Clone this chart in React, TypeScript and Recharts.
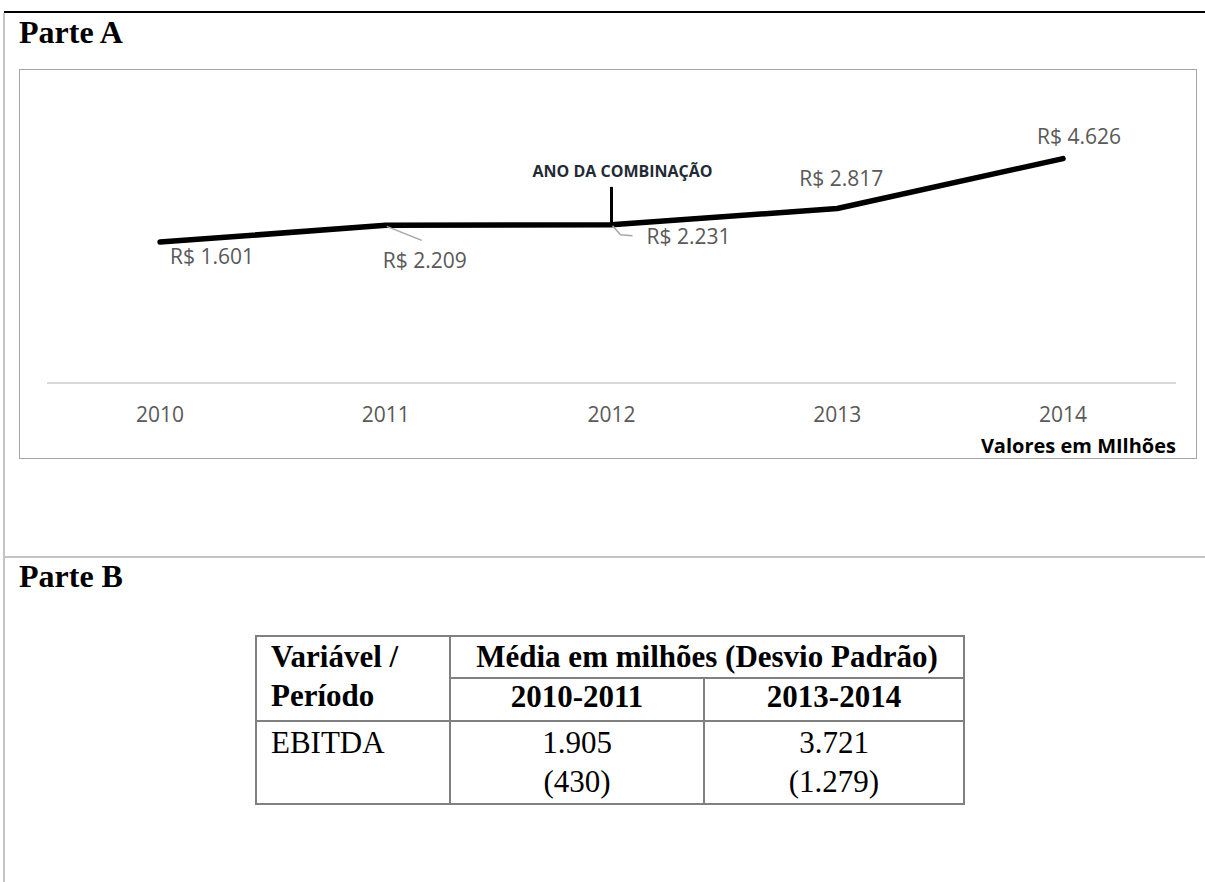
import React from 'react';
import { LineChart, Line, XAxis, YAxis, LabelList, ReferenceLine } from 'recharts';

// EBITDA anual (R$ milhões)
const years = ['2010', '2011', '2012', '2013', '2014'];
const ebitda = [1601, 2209, 2231, 2817, 4626];

// ano da combinação e topo do marcador vertical (em R$ milhões)
const combinationYear = '2012';
const combinationLabel = 'ANO DA COMBINAÇÃO';
const markerTop = 3600;

// médias e desvios da Parte B
const periods = ['2010-2011', '2013-2014'];
const periodMeans = ['1.905', '3.721'];
const periodStdDevs = ['(430)', '(1.279)'];

const chartData = years.map((year, i) => ({ year, ebitda: ebitda[i] }));

// deslocamento de cada rótulo em relação ao ponto (+ linha de chamada opcional)
const labelOffsets: { dx: number; dy: number; leader?: number[][] }[] = [
    { dx: 52, dy: 14 },
    { dx: 39, dy: 35, leader: [[1, 1], [36, 15]] },
    { dx: 77, dy: 12, leader: [[1, 1], [9, 10], [21, 11]] },
    { dx: 4, dy: -30 },
    { dx: 16, dy: -22 },
];

const sans = "'Open Sans', 'Noto Sans', sans-serif";
const serif = "'Liberation Serif', 'Times New Roman', serif";

const formatBRL = (v: number) => 'R$ ' + String(v).replace(/\B(?=(\d{3})+(?!\d))/g, '.');

const renderValueLabel = (props: any) => {
    const { x, y, value, index } = props;
    const off = labelOffsets[index] || { dx: 0, dy: -20 };
    return (
        <g>
            {off.leader && (
                <polyline
                    points={off.leader.map(([px, py]) => `${x + px},${y + py}`).join(' ')}
                    fill="none"
                    stroke="#a6a6a6"
                    strokeWidth={1.5}
                />
            )}
            <text
                x={x + off.dx}
                y={y + off.dy + 7.5}
                textAnchor="middle"
                fill="#595959"
                fontFamily={sans}
                fontSize={21}
            >
                {formatBRL(Number(value))}
            </text>
        </g>
    );
};

const CombinationLabel = (props: any) => {
    const { viewBox } = props;
    if (!viewBox) return null;
    return (
        <text
            x={viewBox.x + 11}
            y={viewBox.y - 10}
            textAnchor="middle"
            fill="#222a35"
            fontFamily={sans}
            fontWeight={700}
            fontSize={16}
        >
            {combinationLabel}
        </text>
    );
};

const UnitLabel = (props: any) => {
    const { viewBox } = props;
    if (!viewBox) return null;
    return (
        <text
            x={viewBox.x + viewBox.width}
            y={viewBox.y + 70}
            textAnchor="end"
            fill="#000"
            fontFamily={sans}
            fontWeight={700}
            fontSize={20}
        >
            Valores em MIlhões
        </text>
    );
};

const cellBorder = '2px solid #808080';

export default function App() {
    const comboValue = ebitda[years.indexOf(combinationYear)];

    return (
        <div style={{ position: 'absolute', left: 0, top: 0, width: 1205, height: 882, background: '#fff', overflow: 'hidden' }}>
            {/* moldura da página */}
            <div style={{ position: 'absolute', left: 4, top: 11, width: 1201, height: 2, background: '#000' }} />
            <div style={{ position: 'absolute', left: 3, top: 13, width: 2, height: 869, background: '#c4c4c4' }} />
            <div style={{ position: 'absolute', left: 4, top: 556, width: 1201, height: 2, background: '#c4c4c4' }} />

            <div style={{ position: 'absolute', left: 19, top: 14, fontFamily: serif, fontWeight: 700, fontSize: 32, lineHeight: '36px' }}>
                Parte A
            </div>

            <div
                style={{
                    position: 'absolute',
                    left: 19,
                    top: 69,
                    width: 1178,
                    height: 390,
                    boxShadow: 'inset 0 0 0 1px #a6a6a6',
                }}
            >
                <LineChart width={1178} height={390} data={chartData} margin={{ top: 24, right: 21, bottom: 0, left: 28 }}>
                    <XAxis
                        dataKey="year"
                        padding={{ left: 113, right: 113 }}
                        axisLine={{ stroke: '#d9d9d9', strokeWidth: 2 }}
                        tickLine={false}
                        tickSize={0}
                        tickMargin={24}
                        height={76}
                        tick={{ fill: '#595959', fontFamily: sans, fontSize: 21 }}
                        label={<UnitLabel />}
                    />
                    <YAxis hide domain={[-3500, 7000]} />
                    <ReferenceLine
                        segment={[
                            { x: combinationYear, y: comboValue },
                            { x: combinationYear, y: markerTop },
                        ]}
                        stroke="#000"
                        strokeWidth={3}
                        label={<CombinationLabel />}
                    />
                    <Line
                        type="linear"
                        dataKey="ebitda"
                        stroke="#000"
                        strokeWidth={5.5}
                        strokeLinecap="round"
                        strokeLinejoin="round"
                        dot={false}
                        activeDot={false}
                        isAnimationActive={false}
                    >
                        <LabelList dataKey="ebitda" content={renderValueLabel} />
                    </Line>
                </LineChart>
            </div>

            <div style={{ position: 'absolute', left: 19, top: 558, fontFamily: serif, fontWeight: 700, fontSize: 32, lineHeight: '36px' }}>
                Parte B
            </div>

            <table
                style={{
                    position: 'absolute',
                    left: 255,
                    top: 635,
                    borderCollapse: 'collapse',
                    fontFamily: serif,
                    fontSize: 31,
                    color: '#000',
                    tableLayout: 'fixed',
                }}
            >
                <colgroup>
                    <col style={{ width: 194 }} />
                    <col style={{ width: 254 }} />
                    <col style={{ width: 260 }} />
                </colgroup>
                <tbody>
                    <tr style={{ height: 42 }}>
                        <td
                            rowSpan={2}
                            style={{ border: cellBorder, padding: '0 0 0 14px', verticalAlign: 'top', fontWeight: 700, lineHeight: '39px' }}
                        >
                            Variável /<br />Período
                        </td>
                        <td
                            colSpan={2}
                            style={{ border: cellBorder, padding: 0, textAlign: 'center', verticalAlign: 'top', fontWeight: 700, lineHeight: '39px' }}
                        >
                            Média em milhões (Desvio Padrão)
                        </td>
                    </tr>
                    <tr style={{ height: 43 }}>
                        {periods.map((p) => (
                            <td
                                key={p}
                                style={{ border: cellBorder, padding: 0, textAlign: 'center', verticalAlign: 'top', fontWeight: 700, lineHeight: '35px' }}
                            >
                                {p}
                            </td>
                        ))}
                    </tr>
                    <tr style={{ height: 83 }}>
                        <td style={{ border: cellBorder, padding: '1px 0 0 14px', verticalAlign: 'top', lineHeight: '39px' }}>EBITDA</td>
                        {periodMeans.map((m, i) => (
                            <td
                                key={m}
                                style={{ border: cellBorder, padding: '1px 0 0 0', textAlign: 'center', verticalAlign: 'top', lineHeight: '39px' }}
                            >
                                {m}
                                <br />
                                {periodStdDevs[i]}
                            </td>
                        ))}
                    </tr>
                </tbody>
            </table>
        </div>
    );
}
